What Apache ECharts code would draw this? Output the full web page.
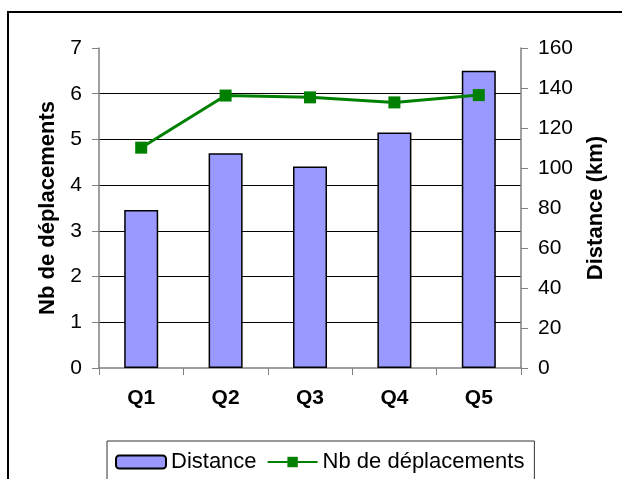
<!DOCTYPE html>
<html>
<head>
<meta charset="utf-8">
<script src="https://cdn.jsdelivr.net/npm/echarts@6/dist/echarts.min.js"></script>
<style>
  html, body { margin: 0; padding: 0; background: #fff; }
  #chart { width: 622px; height: 479px; }
</style>
</head>
<body>
<div id="chart"></div>
<script>
const categories = ['Q1', 'Q2', 'Q3', 'Q4', 'Q5']
const distance = [79, 107.4, 100.7, 117.7, 148.6]
const nbDeplacements = [4.82, 5.96, 5.92, 5.81, 5.97]
const leftTicks = { min: 0, max: 7, interval: 1 }
const rightTicks = { min: 0, max: 160, interval: 20 }

const FONT = '"Liberation Sans", Arial, sans-serif'
const GREEN = '#008000'
const AXIS_GRAY = '#808080'

const chart = echarts.init(document.getElementById('chart'), null, { renderer: 'canvas' })

const option = {
  backgroundColor: '#ffffff',
  animation: false,
  textStyle: { fontFamily: FONT },
  graphic: [{
    type: 'rect',
    shape: { x: 8, y: 12, width: 700, height: 600 },
    style: { fill: 'none', stroke: '#000', lineWidth: 2 },
    z: -1
  }],
  grid: { left: 99, right: 101, top: 48, bottom: 111 },
  legend: {
    left: 107,
    top: 441,
    padding: [10, 10, 40, 8],
    borderColor: '#333',
    borderWidth: 1,
    itemWidth: 50,
    itemHeight: 13,
    itemGap: 10,
    textStyle: { fontFamily: FONT, fontSize: 22, color: '#000' },
    data: ['Distance', 'Nb de déplacements']
  },
  xAxis: {
    type: 'category',
    data: categories,
    axisLine: { lineStyle: { color: AXIS_GRAY, width: 1.5 } },
    axisTick: { show: true, length: 7, lineStyle: { color: AXIS_GRAY } },
    axisLabel: { margin: 20, fontFamily: FONT, fontSize: 21, fontWeight: 'bold', color: '#000' },
    splitLine: { show: false }
  },
  yAxis: [{
    type: 'value',
    position: 'left',
    min: leftTicks.min,
    max: leftTicks.max,
    interval: leftTicks.interval,
    name: 'Nb de déplacements',
    nameLocation: 'middle',
    nameRotate: 90,
    nameGap: 40,
    nameTextStyle: { fontFamily: FONT, fontSize: 22, fontWeight: 'bold', color: '#000' },
    axisLine: { show: true, lineStyle: { color: AXIS_GRAY, width: 1.5 } },
    axisTick: { show: true, length: 7, lineStyle: { color: AXIS_GRAY } },
    axisLabel: { margin: 17, fontFamily: FONT, fontSize: 21, color: '#000' },
    splitLine: { show: true, showMinLine: false, showMaxLine: false, lineStyle: { color: '#000', width: 1 } }
  }, {
    type: 'value',
    position: 'right',
    min: rightTicks.min,
    max: rightTicks.max,
    interval: rightTicks.interval,
    name: 'Distance (km)',
    nameLocation: 'middle',
    nameRotate: 90,
    nameGap: 64,
    nameTextStyle: { fontFamily: FONT, fontSize: 22, fontWeight: 'bold', color: '#000' },
    axisLine: { show: true, lineStyle: { color: AXIS_GRAY, width: 1.5 } },
    axisTick: { show: true, length: 7, lineStyle: { color: AXIS_GRAY } },
    axisLabel: { margin: 17, fontFamily: FONT, fontSize: 21, color: '#000' },
    splitLine: { show: false }
  }],
  series: [{
    name: 'Distance',
    type: 'bar',
    yAxisIndex: 1,
    data: distance,
    barWidth: 34,
    itemStyle: { color: '#9999FF', borderColor: '#000', borderWidth: 1.5 }
  }, {
    name: 'Nb de déplacements',
    type: 'line',
    yAxisIndex: 0,
    data: nbDeplacements,
    symbol: 'rect',
    symbolSize: 12,
    lineStyle: { color: GREEN, width: 3 },
    itemStyle: { color: GREEN }
  }]
}

chart.setOption(option)
</script>
</body>
</html>
